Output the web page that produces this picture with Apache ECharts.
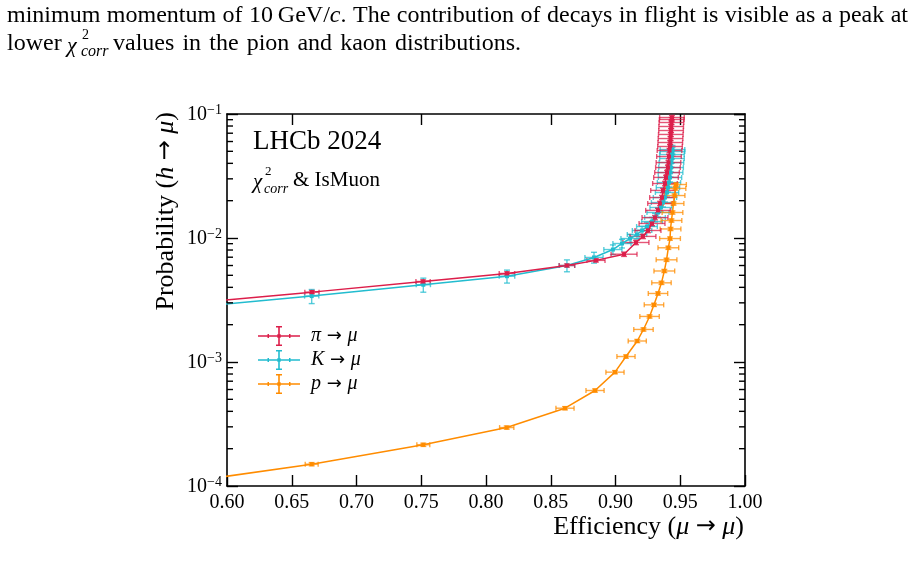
<!DOCTYPE html>
<html>
<head>
<meta charset="utf-8">
<script src="https://cdn.jsdelivr.net/npm/echarts@6.0.0/dist/echarts.min.js"></script>
<style>
html, body { margin: 0; padding: 0; background: #fff; }
#chart { width: 914px; height: 577px; }
</style>
</head>
<body>
<div id="chart"></div>
<script>
// pi -> mu
var piEff  = [0.55, 0.6656, 0.7514, 0.8162, 0.8625, 0.8849, 0.9066, 0.9158, 0.9212, 0.9251, 0.9282, 0.9305, 0.9328, 0.9344, 0.9359, 0.9367, 0.9382, 0.939, 0.9398, 0.9405, 0.9409, 0.9413, 0.9417, 0.9421, 0.9423, 0.9425, 0.9427, 0.9429, 0.943, 0.9432, 0.9434, 0.9436];
var piProb = [2.84e-3, 3.66e-3, 4.46e-3, 5.18e-3, 6.0e-3, 6.6e-3, 7.4e-3, 9.2e-3, 1.03e-2, 1.15e-2, 1.31e-2, 1.46e-2, 1.67e-2, 1.90e-2, 2.12e-2, 2.42e-2, 2.75e-2, 3.08e-2, 3.37e-2, 3.70e-2, 4.06e-2, 4.54e-2, 5.08e-2, 5.47e-2, 5.89e-2, 6.34e-2, 6.84e-2, 7.36e-2, 7.93e-2, 8.54e-2, 9.03e-2, 9.37e-2];
var piEffErr  = [0.005, 0.0055, 0.0055, 0.006, 0.006, 0.007, 0.010, 0.010, 0.010, 0.010, 0.010, 0.010, 0.0095, 0.0095, 0.0095, 0.0095, 0.0095, 0.0095, 0.0095, 0.0095, 0.0095, 0.0095, 0.0095, 0.0095, 0.0095, 0.0095, 0.0095, 0.0095, 0.0095, 0.0095, 0.0095, 0.0095];
var piProbErr = [0.03, 0.03, 0.03, 0.03, 0.03, 0.03, 0.04, 0.04, 0.04, 0.04, 0.04, 0.04, 0.04, 0.04, 0.04, 0.04, 0.04, 0.04, 0.04, 0.04, 0.04, 0.04, 0.04, 0.04, 0.04, 0.04, 0.04, 0.04, 0.04, 0.04, 0.04, 0.04];

// K -> mu
var kEff  = [0.55, 0.6654, 0.7516, 0.8162, 0.8625, 0.8834, 0.898, 0.905, 0.9112, 0.9166, 0.9205, 0.9243, 0.9282, 0.9305, 0.9328, 0.9351, 0.9367, 0.9382, 0.9398, 0.9405, 0.9413, 0.9421, 0.9425, 0.9429, 0.9432, 0.9436, 0.9436, 0.944, 0.944];
var kProb = [2.64e-3, 3.40e-3, 4.20e-3, 4.92e-3, 6.0e-3, 6.97e-3, 8.07e-3, 9.03e-3, 9.9e-3, 1.067e-2, 1.15e-2, 1.238e-2, 1.358e-2, 1.463e-2, 1.606e-2, 1.762e-2, 1.932e-2, 2.12e-2, 2.328e-2, 2.55e-2, 2.8e-2, 3.076e-2, 3.374e-2, 3.70e-2, 4.06e-2, 4.375e-2, 4.71e-2, 4.98e-2, 5.17e-2];
var kEffErr  = [0.005, 0.0055, 0.0055, 0.006, 0.006, 0.007, 0.007, 0.007, 0.007, 0.0075, 0.0075, 0.008, 0.008, 0.008, 0.0085, 0.0085, 0.009, 0.009, 0.009, 0.009, 0.009, 0.009, 0.0095, 0.0095, 0.0095, 0.0095, 0.0095, 0.0095, 0.0095];
var kProbErr = [0.13, 0.13, 0.13, 0.12, 0.11, 0.10, 0.09, 0.08, 0.08, 0.08, 0.08, 0.08, 0.08, 0.08, 0.08, 0.08, 0.08, 0.08, 0.08, 0.08, 0.08, 0.08, 0.08, 0.08, 0.08, 0.08, 0.08, 0.08, 0.08];

// p -> mu
var pEff  = [0.55, 0.6654, 0.7516, 0.816, 0.861, 0.8842, 0.8996, 0.9081, 0.9168, 0.9216, 0.9263, 0.9297, 0.9328, 0.9355, 0.9377, 0.9394, 0.9408, 0.9421, 0.9425, 0.9432, 0.944, 0.9448, 0.9456, 0.9463, 0.9467];
var pProb = [1.01e-4, 1.50e-4, 2.15e-4, 2.96e-4, 4.24e-4, 5.89e-4, 8.28e-4, 1.107e-3, 1.477e-3, 1.83e-3, 2.33e-3, 2.89e-3, 3.57e-3, 4.35e-3, 5.42e-3, 6.67e-3, 8.34e-3, 9.9e-3, 1.183e-2, 1.384e-2, 1.606e-2, 1.897e-2, 2.2e-2, 2.51e-2, 2.70e-2];
var pEffErr  = [0.005, 0.005, 0.005, 0.0055, 0.007, 0.007, 0.007, 0.007, 0.007, 0.0075, 0.0075, 0.0075, 0.0075, 0.0075, 0.008, 0.008, 0.008, 0.008, 0.008, 0.008, 0.008, 0.008, 0.008, 0.008, 0.008];
var pProbErr = [0.03, 0.03, 0.03, 0.03, 0.03, 0.03, 0.03, 0.03, 0.03, 0.03, 0.03, 0.03, 0.03, 0.03, 0.03, 0.03, 0.03, 0.03, 0.03, 0.03, 0.03, 0.03, 0.03, 0.03, 0.03];

var seriesNames = ['π → μ', 'K → μ', 'p → μ'];
var seriesColors = ['#dc1e4a', '#22bccf', '#ff8c00'];
var minorTicks = [2e-4, 3e-4, 4e-4, 5e-4, 6e-4, 7e-4, 8e-4, 9e-4,
                  2e-3, 3e-3, 4e-3, 5e-3, 6e-3, 7e-3, 8e-3, 9e-3,
                  2e-2, 3e-2, 4e-2, 5e-2, 6e-2, 7e-2, 8e-2, 9e-2];
var topTicks = [0.65, 0.75, 0.85, 0.90, 0.95];

// paper text round the figure
var line1 = ['minimum', 'momentum', 'of', '10\u2009GeV/{i|c}.', 'The', 'contribution', 'of', 'decays', 'in', 'flight', 'is', 'visible', 'as', 'a', 'peak', 'at'];
var line2 = ['values', 'in', 'the', 'pion', 'and', 'kaon', 'distributions.'];

var serif = 'Liberation Serif';
var chart = echarts.init(document.getElementById('chart'));

var measureCtx = document.createElement('canvas').getContext('2d');
function wordWidth(w, size) {
    var parts = w.split(/(\{i\|[^}]*\})/);
    var total = 0;
    parts.forEach(function (p) {
        if (!p) return;
        var m = p.match(/^\{i\|([^}]*)\}$/);
        measureCtx.font = (m ? 'italic ' : '') + size + 'px ' + serif;
        total += measureCtx.measureText(m ? m[1] : p).width;
    });
    return total;
}
// spread words evenly between x0 and x1, like a justified line
function justify(words, x0, x1, y, size) {
    var ws = words.map(function (w) { return wordWidth(w, size); });
    var sum = ws.reduce(function (a, b) { return a + b; }, 0);
    var gap = (x1 - x0 - sum) / (words.length - 1);
    var x = x0, out = [];
    words.forEach(function (w, i) {
        out.push({ type: 'text', x: x, y: y, style: {
            text: w, font: size + 'px ' + serif, fill: '#000', verticalAlign: 'middle',
            rich: { i: { fontFamily: serif, fontStyle: 'italic', fontSize: size } } } });
        x += ws[i] + gap;
    });
    return out;
}

function pairs(xs, ys) {
    return xs.map(function (x, i) { return [x, ys[i]]; });
}
function errRows(xs, ys, ex, ey) {
    return xs.map(function (x, i) { return [x, ys[i], ex[i], ey[i]]; });
}

function errorBars(color) {
    return function (params, api) {
        var x = api.value(0), y = api.value(1), ex = api.value(2), ey = api.value(3);
        var l = api.coord([x - ex, y]), r = api.coord([x + ex, y]);
        var lo = api.coord([x, y * (1 - ey)]), hi = api.coord([x, y * (1 + ey)]);
        var st = { stroke: color, lineWidth: 1.4, opacity: 0.75 };
        function seg(a, b, c, d) {
            return { type: 'line', shape: { x1: a, y1: b, x2: c, y2: d }, style: st };
        }
        return {
            type: 'group',
            children: [
                seg(l[0], l[1], r[0], r[1]),
                seg(lo[0], lo[1], hi[0], hi[1]),
                seg(l[0], l[1] - 2.5, l[0], l[1] + 2.5),
                seg(r[0], r[1] - 2.5, r[0], r[1] + 2.5),
                seg(lo[0] - 3, lo[1], lo[0] + 3, lo[1]),
                seg(hi[0] - 3, hi[1], hi[0] + 3, hi[1])
            ]
        };
    };
}

function minorTickRender(params, api) {
    var cs = params.coordSys;
    var y = api.coord([0.6, api.value(1)])[1];
    var st = { stroke: '#000', lineWidth: 1.4 };
    return {
        type: 'group',
        children: [
            { type: 'line', shape: { x1: cs.x, y1: y, x2: cs.x + 6, y2: y }, style: st },
            { type: 'line', shape: { x1: cs.x + cs.width, y1: y, x2: cs.x + cs.width - 6, y2: y }, style: st }
        ]
    };
}

var legendIcon = 'path://M0,9.2L42,9.2L42,10.8L0,10.8Z M20.2,0L21.8,0L21.8,20L20.2,20Z M18,0L24,0L24,1.4L18,1.4Z M18,18.6L24,18.6L24,20L18,20Z M9.5,8L11,8L11,12L9.5,12Z M31,8L32.5,8L32.5,12L31,12Z M19.3,8.3L22.7,8.3L22.7,11.7L19.3,11.7Z';

var effData = [pairs(piEff, piProb), pairs(kEff, kProb), pairs(pEff, pProb)];
var errData = [errRows(piEff, piProb, piEffErr, piProbErr), errRows(kEff, kProb, kEffErr, kProbErr), errRows(pEff, pProb, pEffErr, pProbErr)];

var series = [];
[1, 2, 0].forEach(function (k) {
    series.push({
        name: seriesNames[k] + ' err',
        type: 'custom',
        renderItem: errorBars(seriesColors[k]),
        data: errData[k],
        encode: { x: 0, y: 1 },
        clip: true,
        silent: true,
        z: 2
    });
});
[1, 2, 0].forEach(function (k) {
    series.push({
        name: seriesNames[k],
        type: 'line',
        data: effData[k],
        symbol: 'rect',
        symbolSize: 4,
        showSymbol: true,
        clip: true,
        color: seriesColors[k],
        lineStyle: { width: 1.5, color: seriesColors[k] },
        itemStyle: { color: seriesColors[k] },
        z: 3
    });
});
series.push({
    type: 'custom',
    renderItem: minorTickRender,
    data: minorTicks.map(function (v) { return [0.6, v]; }),
    encode: { x: 0, y: 1 },
    silent: true,
    z: 5
});

var axisLineStyle = { color: '#000', width: 1.6 };
var tickStyle = { color: '#000', width: 1.4 };
var titleRich = {
    i: { fontFamily: serif, fontStyle: 'italic', fontSize: 26 },
    a: { fontFamily: 'DejaVu Sans', fontSize: 24 }
};

var option = {
    animation: false,
    backgroundColor: '#fff',
    grid: { left: 227, right: 169, top: 114, bottom: 91 },
    xAxis: [{
        type: 'value', min: 0.6, max: 1.0, interval: 0.05, position: 'bottom',
        axisLine: { show: true, lineStyle: axisLineStyle },
        axisTick: { show: true, inside: true, length: 11, lineStyle: tickStyle },
        splitLine: { show: false },
        axisLabel: {
            color: '#000', fontFamily: serif, fontSize: 20, margin: 7,
            formatter: function (v) { return v.toFixed(2); }
        }
    }, {
        type: 'value', min: 0.6, max: 1.0, interval: 0.05, position: 'top',
        axisLine: { show: true, lineStyle: axisLineStyle },
        axisTick: { show: true, inside: true, length: 11, lineStyle: tickStyle, customValues: topTicks },
        splitLine: { show: false },
        axisLabel: { show: false }
    }],
    yAxis: [{
        type: 'log', logBase: 10, min: 1e-4, max: 1e-1, position: 'left',
        axisLine: { show: true, lineStyle: axisLineStyle },
        axisTick: { show: true, inside: true, length: 11, lineStyle: tickStyle },
        splitLine: { show: false },
        axisLabel: {
            color: '#000', margin: 5,
            formatter: function (v) {
                var e = Math.round(Math.log(v) / Math.LN10);
                return '{b|10}{s|−' + (-e) + '}';
            },
            rich: {
                b: { fontFamily: serif, fontSize: 20, color: '#000', lineHeight: 22, verticalAlign: 'bottom' },
                s: { fontFamily: serif, fontSize: 14, color: '#000', lineHeight: 14, verticalAlign: 'top' }
            }
        }
    }, {
        type: 'log', logBase: 10, min: 1e-4, max: 1e-1, position: 'right',
        axisLine: { show: true, lineStyle: axisLineStyle },
        axisTick: { show: true, inside: true, length: 11, lineStyle: tickStyle },
        splitLine: { show: false },
        axisLabel: { show: false }
    }],
    legend: {
        left: 253, top: 321, orient: 'vertical', itemWidth: 42, itemHeight: 20, itemGap: 4,
        data: seriesNames.map(function (n, i) {
            return { name: n, icon: legendIcon, itemStyle: { color: seriesColors[i] } };
        }),
        formatter: function (name) {
            var p = name.split(' → ');
            return '{i|' + p[0] + '}{a| → }{i|' + p[1] + '}';
        },
        textStyle: {
            padding: [0, 0, 0, 6],
            rich: {
                i: { fontFamily: serif, fontStyle: 'italic', fontSize: 20, color: '#000' },
                a: { fontFamily: 'DejaVu Sans', fontSize: 18, color: '#000' }
            }
        }
    },
    graphic: [].concat(
        justify(line1, 7, 908, 16, 24),
        justify(line2, 113, 521, 44, 24),
        [
            { type: 'text', x: 7, y: 44, style: { text: 'lower', font: '24px ' + serif, fill: '#000', verticalAlign: 'middle' } },
            { type: 'text', left: 67, top: 35, style: { text: 'χ', font: 'italic 22px ' + serif, fill: '#000' } },
            { type: 'text', left: 82, top: 28, style: { text: '2', font: '14px ' + serif, fill: '#000' } },
            { type: 'text', left: 81, top: 44, style: { text: 'corr', font: 'italic 16px ' + serif, fill: '#000' } },
            // annotations in the frame
            { type: 'text', left: 253, top: 128, style: { text: 'LHCb 2024', font: '27px ' + serif, fill: '#000' } },
            { type: 'text', left: 253, top: 172, style: { text: 'χ', font: 'italic 21px ' + serif, fill: '#000' } },
            { type: 'text', left: 265, top: 165, style: { text: '2', font: '13px ' + serif, fill: '#000' } },
            { type: 'text', left: 264, top: 182, style: { text: 'corr', font: 'italic 14px ' + serif, fill: '#000' } },
            { type: 'text', left: 293, top: 170, style: { text: '& IsMuon', font: '21px ' + serif, fill: '#000' } },
            // axis titles
            { type: 'text', x: 166, y: 112, rotation: Math.PI / 2, style: {
                text: 'Probability ({i|h} {a|→} {i|μ})', font: '26px ' + serif, fill: '#000',
                align: 'right', verticalAlign: 'middle', rich: titleRich } },
            { type: 'text', x: 744, y: 527, style: {
                text: 'Efficiency ({i|μ} {a|→} {i|μ})', font: '26px ' + serif, fill: '#000',
                align: 'right', verticalAlign: 'middle', rich: titleRich } }
        ]
    ),
    series: series
};

chart.setOption(option);
</script>
</body>
</html>
